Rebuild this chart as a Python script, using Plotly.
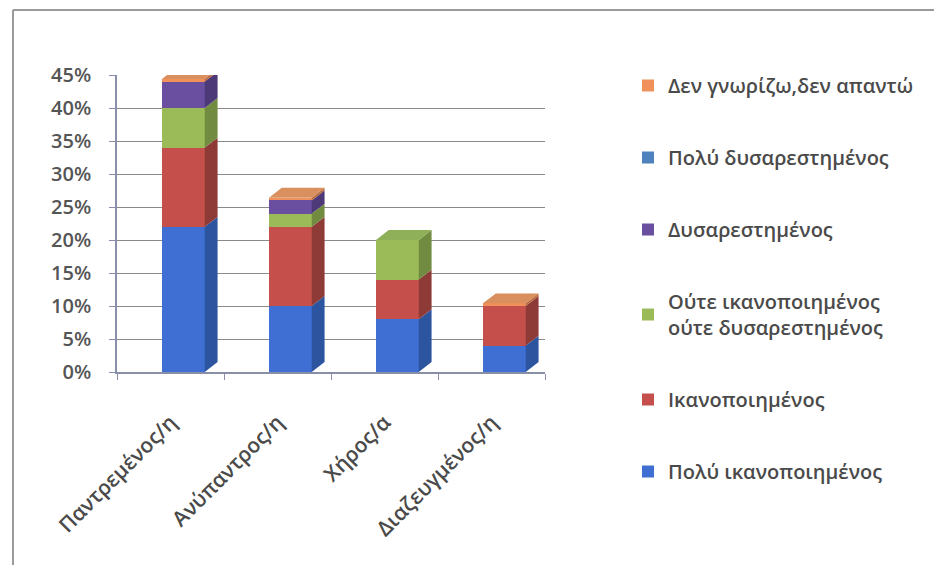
import plotly.graph_objects as go

categories = ["Παντρεμένος/η", "Ανύπαντρος/η", "Χήρος/α", "Διαζευγμένος/η"]

poly_ikanopoiimenos = [22, 10, 8, 4]
ikanopoiimenos = [12, 12, 6, 6]
oute_oute = [6, 2, 6, 0]
dysarestimenos = [4, 2, 0, 0]
poly_dysarestimenos = [0, 0, 0, 0]
den_gnorizo = [0.4, 0.4, 0, 0.4]

series_names = [
    "Πολύ ικανοποιημένος",
    "Ικανοποιημένος",
    "Ούτε ικανοποιημένος<br>ούτε δυσαρεστημένος",
    "Δυσαρεστημένος",
    "Πολύ δυσαρεστημένος",
    "Δεν γνωρίζω,δεν απαντώ",
]
series_values = [poly_ikanopoiimenos, ikanopoiimenos, oute_oute,
                 dysarestimenos, poly_dysarestimenos, den_gnorizo]
series_colors = ["#3f6fd2", "#c5504b", "#9bbb59", "#6a4fa0", "#4f81bd", "#f0905a"]
side_colors = ["#2d549f", "#8e3a37", "#718c40", "#4d3878", "#3a6190", "#b86c40"]
top_colors = ["#5a86dc", "#d07068", "#8fb058", "#7b62ad", "#6a95c8", "#d9905e"]

y_ticks = list(range(0, 50, 5))
y_tick_labels = [f"{v}%" for v in y_ticks]

FONT = "Open Sans"
TXT = "#4a4a4a"

W, H = 934, 565
BAR_W = 0.4
BAR_OFF = -0.08          # shift of the front face inside each category slot
DX = 0.12                # depth in category units
DY = 1.5                 # depth in value units

xs = list(range(len(categories)))

fig = go.Figure()
n = len(series_names)
for i, (name, vals, col) in enumerate(zip(series_names, series_values, series_colors)):
    fig.add_trace(go.Bar(
        x=xs, y=vals, name=name, legendgroup=name,
        legendrank=n - i,
        marker=dict(color=col, line=dict(width=0)),
        width=BAR_W, offset=BAR_OFF,
    ))

# depth faces (side + top), derived from the data values
for c in xs:
    xl = c + BAR_OFF
    xr = xl + BAR_W
    base = 0.0
    top_idx = None
    for s, vals in enumerate(series_values):
        v = vals[c]
        if v <= 0:
            continue
        fig.add_trace(go.Scatter(
            x=[xr, xr + DX, xr + DX, xr, xr],
            y=[base, base + DY, base + v + DY, base + v, base],
            mode="lines", fill="toself", fillcolor=side_colors[s],
            line=dict(width=0), showlegend=False, hoverinfo="skip",
            cliponaxis=False,
        ))
        base += v
        top_idx = s
    if top_idx is not None:
        fig.add_trace(go.Scatter(
            x=[xl, xl + DX, xr + DX, xr, xl],
            y=[base, base + DY, base + DY, base, base],
            mode="lines", fill="toself", fillcolor=top_colors[top_idx],
            line=dict(width=0), showlegend=False, hoverinfo="skip",
            cliponaxis=False,
        ))

fig.update_layout(
    width=W, height=H,
    margin=dict(l=0, r=0, t=0, b=0),
    paper_bgcolor="white", plot_bgcolor="white",
    barmode="stack",
    font=dict(family=FONT, color=TXT, size=20),
    xaxis=dict(
        domain=[117 / W, 545 / W],
        range=[-0.5, 3.5],
        tickvals=xs, ticktext=categories,
        tickangle=-45,
        tickfont=dict(size=21, color=TXT, weight=600),
        ticklabelstandoff=28,
        showline=True, linecolor="#8a8fa8", linewidth=1.5,
        ticks="",
        minor=dict(tickvals=[-0.5, 0.5, 1.5, 2.5, 3.5], ticks="outside",
                   ticklen=6, tickcolor="#8a8fa8", showgrid=False),
        showgrid=False, zeroline=False, automargin=False,
    ),
    yaxis=dict(
        domain=[1 - 372 / H, 1 - 75 / H],
        range=[0, 45],
        tickvals=y_ticks,
        ticktext=y_tick_labels,
        tickfont=dict(size=20, color="#555555", weight=600),
        ticklabelstandoff=14,
        showline=True, linecolor="#8a8fa8", linewidth=1.5,
        ticks="outside", ticklen=6, tickcolor="#8a8fa8",
        showgrid=True, gridcolor="#8a8a8a", gridwidth=1.2,
        zeroline=False, automargin=False,
    ),
    legend=dict(
        x=628 / W, xanchor="left",
        y=1 - 66 / H, yanchor="top",
        traceorder="grouped",
        tracegroupgap=43,
        font=dict(size=20, color=TXT, weight=600),
        itemwidth=30,
        bgcolor="rgba(0,0,0,0)",
    ),
    shapes=[
        dict(type="line", xref="paper", yref="paper",
             x0=13 / W, x1=1, y0=1 - 10 / H, y1=1 - 10 / H,
             line=dict(color="#9a9a9a", width=2)),
        dict(type="line", xref="paper", yref="paper",
             x0=13 / W, x1=13 / W, y0=0, y1=1 - 10 / H,
             line=dict(color="#9a9a9a", width=2)),
    ],
)

fig.write_html("out.html")
